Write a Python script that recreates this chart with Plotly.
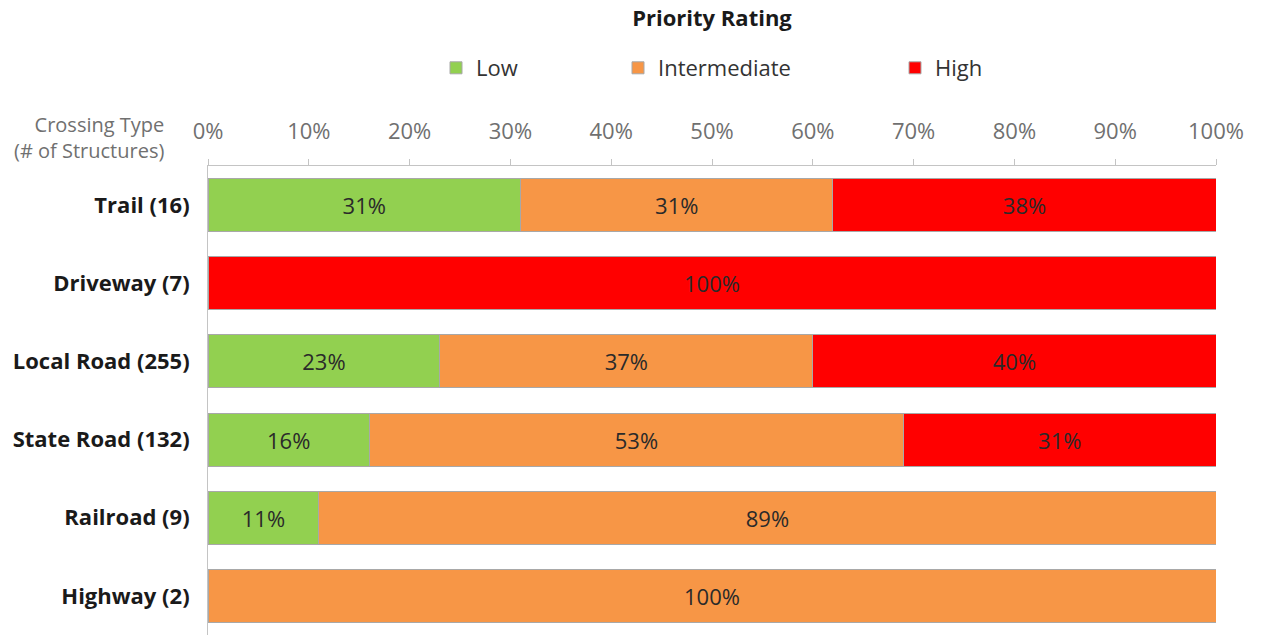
import plotly.graph_objects as go

# Crossing types with structure counts, top to bottom
categories = ["Trail (16)", "Driveway (7)", "Local Road (255)",
              "State Road (132)", "Railroad (9)", "Highway (2)"]

# Share of structures in each priority rating (%)
low = [31, None, 23, 16, 11, None]
intermediate = [31, None, 37, 53, 89, 100]
high = [38, 100, 40, 31, None, None]

series = [
    ("Low", low, "#92D050", "legend"),
    ("Intermediate", intermediate, "#F79646", "legend2"),
    ("High", high, "#FF0000", "legend3"),
]

FONT = "Open Sans"
W, H = 1261, 635
ML, MR, MT, MB = 208, 45, 166, 0
PW, PH = W - ML - MR, H - MT - MB


def paper_x(px):
    return (px - ML) / PW


def paper_y(py):
    return (H - MB - py) / PH


fig = go.Figure()
for name, vals, color, lg in series:
    fig.add_trace(go.Bar(
        name=name,
        y=categories,
        x=vals,
        orientation="h",
        marker=dict(color=color, line=dict(color="#A8A8A8", width=1)),
        texttemplate="%{x:.0f}%",
        textposition="inside",
        insidetextanchor="middle",
        insidetextfont=dict(family=FONT, size=22, color="#2a2a2a"),
        legend=lg,
        hoverinfo="skip",
    ))

legend_common = dict(
    orientation="h",
    xref="container", yref="container",
    yanchor="middle", y=1 - 68 / H,
    font=dict(family=FONT, size=22, color="#333333"),
    bgcolor="rgba(0,0,0,0)",
)

fig.update_layout(
    width=W, height=H,
    margin=dict(l=ML, r=MR, t=MT, b=MB),
    barmode="stack",
    bargap=0.32,
    showlegend=True,
    plot_bgcolor="white",
    paper_bgcolor="white",
    font=dict(family=FONT),
    title=dict(
        text="Priority Rating",
        font=dict(family=FONT, size=22, color="#1a1a1a", weight=700),
        xref="paper", x=0.5, xanchor="center",
        yref="container", y=1 - 18 / H, yanchor="middle",
    ),
    legend=dict(x=436 / W, **legend_common),
    legend2=dict(x=618 / W, **legend_common),
    legend3=dict(x=895 / W, **legend_common),
    xaxis=dict(
        side="top",
        range=[0, 100],
        dtick=10,
        ticksuffix="%",
        showgrid=False,
        zeroline=False,
        showline=True,
        linecolor="#C4C4C4",
        linewidth=1,
        ticks="outside",
        ticklen=6,
        tickcolor="#C4C4C4",
        ticklabelstandoff=11,
        tickfont=dict(family=FONT, size=22, color="#707070"),
        fixedrange=True,
    ),
    yaxis=dict(
        autorange="reversed",
        showgrid=False,
        showline=True,
        linecolor="#C4C4C4",
        linewidth=1,
        ticks="",
        ticklabelstandoff=13,
        tickfont=dict(family=FONT, size=22, color="#1a1a1a", weight=700),
        fixedrange=True,
    ),
    annotations=[dict(
        text="Crossing Type<br>(# of Structures)",
        xref="paper", yref="paper",
        x=paper_x(166), xanchor="right",
        y=paper_y(137), yanchor="middle",
        align="right",
        showarrow=False,
        font=dict(family=FONT, size=20, color="#707070"),
    )],
)

fig.write_html("out.html")
